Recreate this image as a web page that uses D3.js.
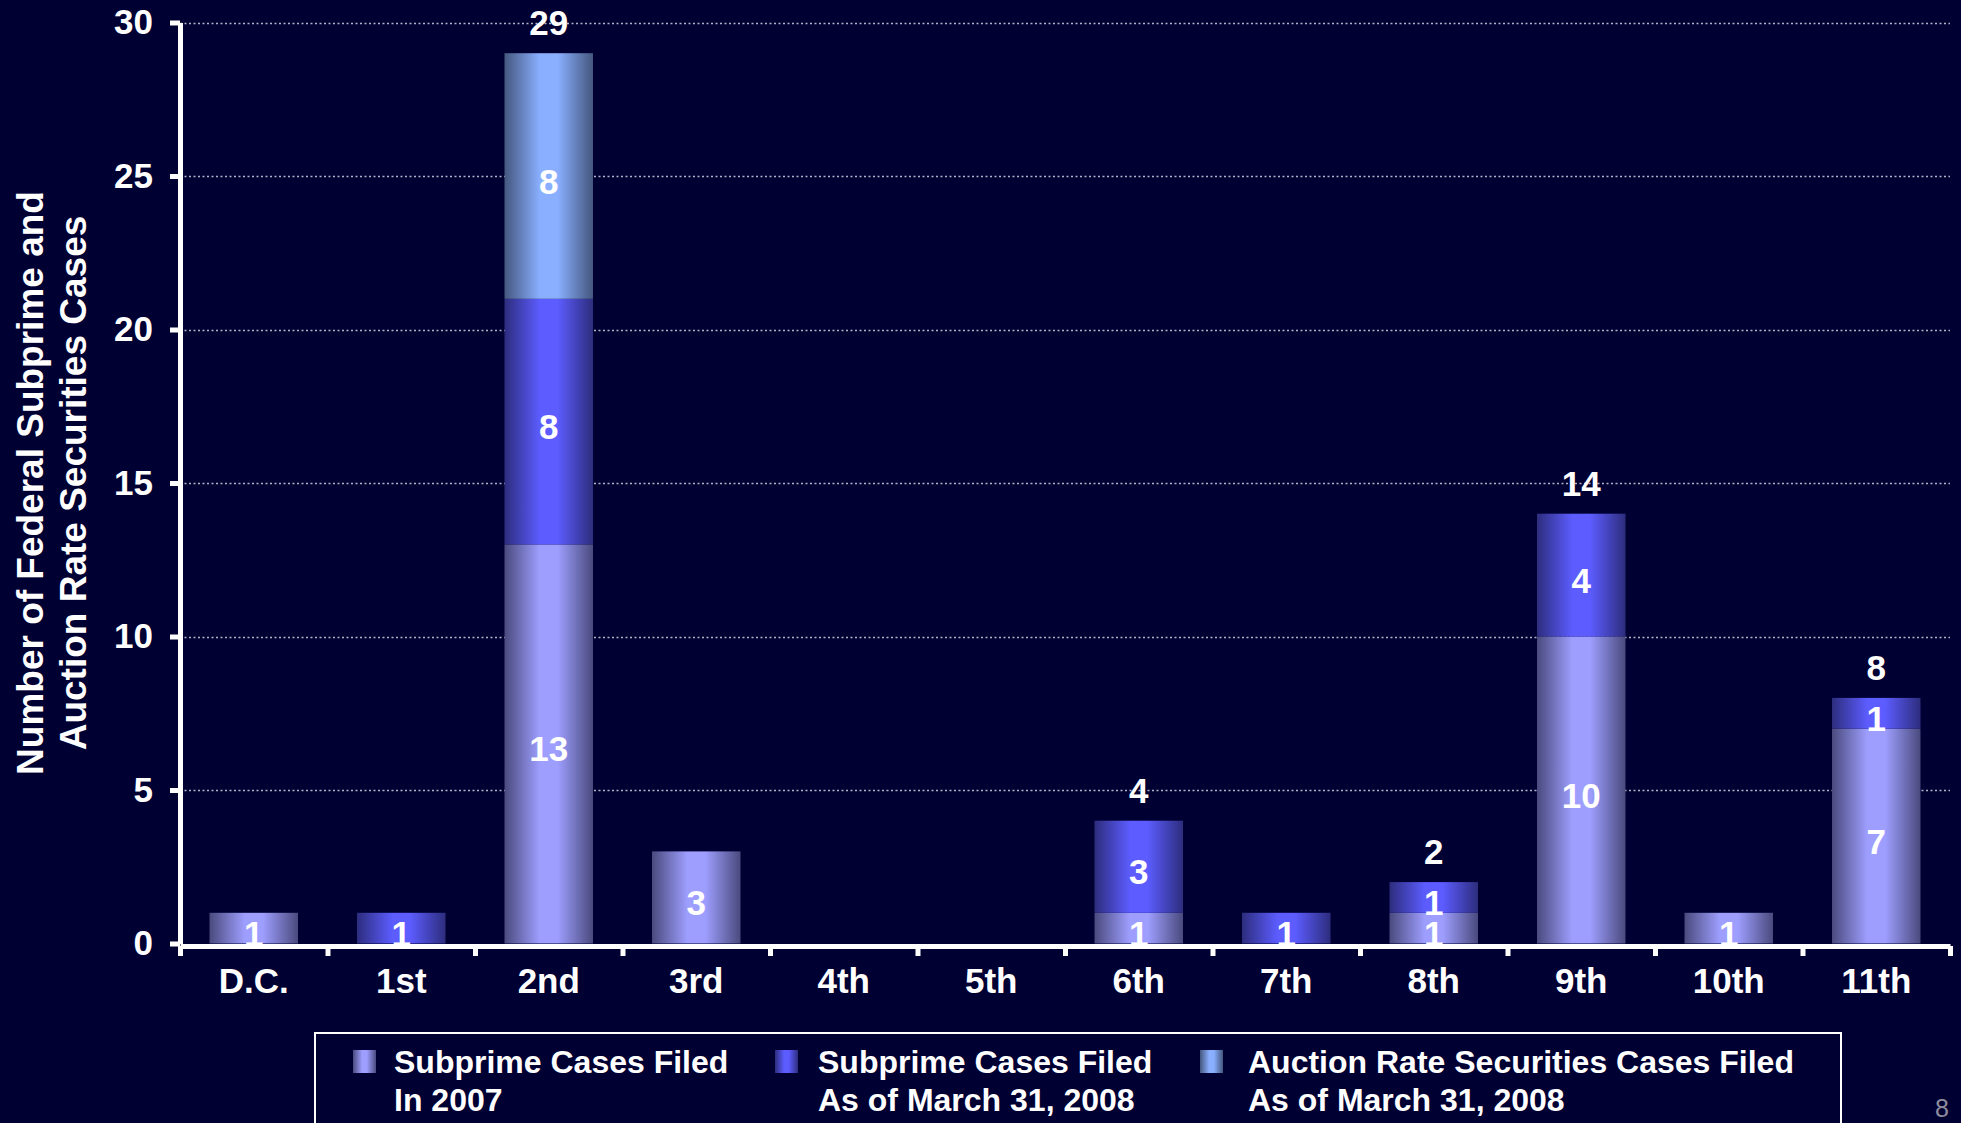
<!DOCTYPE html>
<html>
<head>
<meta charset="utf-8">
<script src="https://cdn.jsdelivr.net/npm/d3@7"></script>
<style>
  html, body { margin: 0; padding: 0; background: #000033; }
  svg { display: block; }
  text { font-family: Arial, "Liberation Sans", sans-serif; }
</style>
</head>
<body>
<svg id="chart" width="1961" height="1123"></svg>
<script>
// Federal circuits
const circuits = ["D.C.", "1st", "2nd", "3rd", "4th", "5th", "6th", "7th", "8th", "9th", "10th", "11th"];
// Case counts per circuit
const subprime2007 = [1, 0, 13, 3, 0, 0, 1, 0, 1, 10, 1, 7];
const subprime2008 = [0, 1, 8, 0, 0, 0, 3, 1, 1, 4, 0, 1];
const auctionRate2008 = [0, 0, 8, 0, 0, 0, 0, 0, 0, 0, 0, 0];
const yTicks = [0, 5, 10, 15, 20, 25, 30];

const seriesKeys = ["s2007", "s2008", "ars"];
const seriesLabels = [
  ["Subprime Cases Filed", "In 2007"],
  ["Subprime Cases Filed", "As of March 31, 2008"],
  ["Auction Rate Securities Cases Filed", "As of March 31, 2008"]
];
const seriesColors = [
  { edge: "#4a4a7e", mid: "#9e9eff" },
  { edge: "#2d2d7e", mid: "#5c5cff" },
  { edge: "#44577e", mid: "#8aafff" }
];

const rows = circuits.map((c, i) => ({
  circuit: c, s2007: subprime2007[i], s2008: subprime2008[i], ars: auctionRate2008[i]
}));

const svg = d3.select("#chart");
svg.append("rect").attr("width", 1961).attr("height", 1123).attr("fill", "#000033");

const plotLeft = 180, plotRight = 1950, plotTop = 22.5, plotBottom = 943.5;

const x = d3.scaleBand().domain(circuits).range([plotLeft, plotRight]).paddingInner(0.4).paddingOuter(0.2);
const xEdges = d3.scaleLinear().domain([0, circuits.length]).range([plotLeft, plotRight]);
const y = d3.scaleLinear().domain([0, 30]).range([plotBottom, plotTop]);

// horizontal bar gradients, dark at both edges
const defs = svg.append("defs");
seriesColors.forEach((c, i) => {
  const g = defs.append("linearGradient").attr("id", "grad" + i)
    .attr("x1", "0%").attr("x2", "100%").attr("y1", "0%").attr("y2", "0%");
  g.append("stop").attr("offset", "0%").attr("stop-color", c.edge);
  g.append("stop").attr("offset", "40%").attr("stop-color", c.mid);
  g.append("stop").attr("offset", "60%").attr("stop-color", c.mid);
  g.append("stop").attr("offset", "100%").attr("stop-color", c.edge);
});

// dotted gridlines
svg.append("g").selectAll("line").data(yTicks.filter(d => d > 0)).join("line")
  .attr("x1", plotLeft).attr("x2", plotRight)
  .attr("y1", d => Math.round(y(d)) + 0.5).attr("y2", d => Math.round(y(d)) + 0.5)
  .attr("stroke", "#b4b4c8").attr("stroke-width", 1.5).attr("stroke-dasharray", "2,2.5");

// stacked bars
const stacked = d3.stack().keys(seriesKeys)(rows);
const barG = svg.append("g");
stacked.forEach((layer, si) => {
  barG.append("g").selectAll("rect").data(layer.filter(d => d[1] - d[0] > 0)).join("rect")
    .attr("x", d => x(d.data.circuit))
    .attr("width", x.bandwidth())
    .attr("y", d => y(d[1]))
    .attr("height", d => y(d[0]) - y(d[1]))
    .attr("fill", "url(#grad" + si + ")");
});

// segment value labels
stacked.forEach((layer) => {
  barG.append("g").selectAll("text").data(layer.filter(d => d[1] - d[0] > 0)).join("text")
    .attr("x", d => x(d.data.circuit) + x.bandwidth() / 2)
    .attr("y", d => y((d[0] + d[1]) / 2))
    .attr("dy", "0.5em")
    .attr("text-anchor", "middle")
    .attr("fill", "#ffffff").attr("font-weight", "bold").attr("font-size", 35)
    .text(d => d[1] - d[0]);
});

// totals above bars with more than one series
const totals = rows.map(r => ({ circuit: r.circuit, total: r.s2007 + r.s2008 + r.ars,
  parts: seriesKeys.filter(k => r[k] > 0).length }));
svg.append("g").selectAll("text").data(totals.filter(d => d.parts > 1)).join("text")
  .attr("x", d => x(d.circuit) + x.bandwidth() / 2)
  .attr("y", d => y(d.total) - 18)
  .attr("text-anchor", "middle")
  .attr("fill", "#ffffff").attr("font-weight", "bold").attr("font-size", 35)
  .text(d => d.total);

// y axis
const yAxis = svg.append("g").attr("transform", `translate(${plotLeft},0)`)
  .call(d3.axisLeft(y).tickValues(yTicks).tickSize(10).tickSizeOuter(0).tickPadding(17));
yAxis.select(".domain").attr("stroke", "#ffffff").attr("stroke-width", 5);
yAxis.selectAll(".tick line").attr("stroke", "#ffffff").attr("stroke-width", 5);
yAxis.selectAll(".tick text").attr("fill", "#ffffff").attr("font-size", 35)
  .attr("font-weight", "bold").attr("font-family", "Arial, 'Liberation Sans', sans-serif");

// x axis: line with boundary ticks
const xAxis = svg.append("g").attr("transform", `translate(0,${plotBottom + 2.5})`)
  .call(d3.axisBottom(xEdges).tickValues(d3.range(circuits.length + 1)).tickFormat("")
    .tickSize(10).tickSizeOuter(0));
xAxis.select(".domain").attr("stroke", "#ffffff").attr("stroke-width", 5);
xAxis.selectAll(".tick line").attr("stroke", "#ffffff").attr("stroke-width", 5);

// category labels
const xLabels = svg.append("g").attr("transform", `translate(0,${plotBottom})`)
  .call(d3.axisBottom(x).tickSize(0).tickPadding(25));
xLabels.select(".domain").remove();
xLabels.selectAll(".tick text").attr("fill", "#ffffff").attr("font-size", 35)
  .attr("font-weight", "bold").attr("font-family", "Arial, 'Liberation Sans', sans-serif");

// y axis title
const yTitle = svg.append("text")
  .attr("transform", `translate(0,${(plotTop + plotBottom) / 2}) rotate(-90)`)
  .attr("text-anchor", "middle").attr("fill", "#ffffff")
  .attr("font-weight", "bold").attr("font-size", 37);
yTitle.append("tspan").attr("x", 0).attr("y", 43).text("Number of Federal Subprime and");
yTitle.append("tspan").attr("x", 0).attr("y", 86).text("Auction Rate Securities Cases");

// legend
const legend = svg.append("g");
legend.append("rect").attr("x", 315).attr("y", 1033).attr("width", 1526).attr("height", 110)
  .attr("fill", "none").attr("stroke", "#ffffff").attr("stroke-width", 2);
const legendPos = [{ sw: 353, tx: 394 }, { sw: 775, tx: 818 }, { sw: 1200, tx: 1248 }];
seriesLabels.forEach((lines, i) => {
  const p = legendPos[i];
  legend.append("rect").attr("x", p.sw).attr("y", 1050).attr("width", 23).attr("height", 23)
    .attr("fill", "url(#grad" + i + ")");
  const t = legend.append("text").attr("fill", "#ffffff").attr("font-weight", "bold").attr("font-size", 32);
  t.append("tspan").attr("x", p.tx).attr("y", 1073).text(lines[0]);
  t.append("tspan").attr("x", p.tx).attr("y", 1111).text(lines[1]);
});

// page number
svg.append("text").attr("x", 1949).attr("y", 1117).attr("text-anchor", "end")
  .attr("fill", "#8c8c9c").attr("font-size", 25).text("8");
</script>
</body>
</html>
